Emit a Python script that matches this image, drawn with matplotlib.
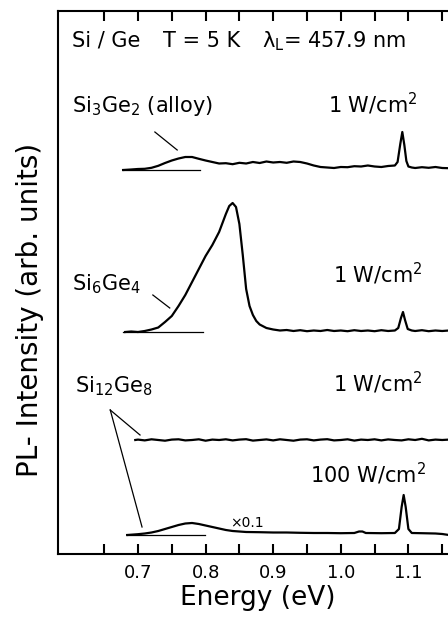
import numpy as np
import matplotlib.pyplot as plt

# PL spectra (energy in eV, intensity in arb. units above each baseline)
e_alloy = [0.678, 0.69, 0.70, 0.71, 0.72, 0.73, 0.74, 0.75, 0.76, 0.77, 0.78, 0.79, 0.80,
           0.81, 0.82, 0.83, 0.84, 0.85, 0.86, 0.87, 0.88, 0.89, 0.90, 0.91, 0.92, 0.93,
           0.94, 0.95, 0.96, 0.97, 0.98, 0.99, 1.00, 1.01, 1.02, 1.03, 1.04, 1.05, 1.06,
           1.07, 1.08, 1.084, 1.088, 1.091, 1.094, 1.097, 1.10, 1.105, 1.11, 1.12, 1.13,
           1.14, 1.15, 1.16]
i_alloy = [0, 0.5, 1, 1.2, 2.2, 4.2, 7, 9.5, 11.5, 13, 13, 11.2, 9.5,
           8, 6.5, 6.8, 5.8, 7.2, 6.5, 8, 7, 8.5, 7.5, 8, 7.2, 8.5,
           8, 6.5, 4.5, 3, 2.5, 2, 3, 2.8, 3.8, 3.5, 4.5, 3.5, 3,
           4, 4.5, 8, 26, 38, 25, 9, 3.5, 2.5, 2, 2.8, 2.2,
           3, 2, 1.8]

e_64 = [0.681, 0.69, 0.70, 0.71, 0.72, 0.73, 0.74, 0.75, 0.76, 0.77, 0.78, 0.79, 0.80,
        0.81, 0.82, 0.83, 0.835, 0.84, 0.845, 0.85, 0.855, 0.86, 0.865, 0.87, 0.875,
        0.88, 0.89, 0.90, 0.91, 0.92, 0.93, 0.94, 0.95, 0.96, 0.97, 0.98, 0.99, 1.00,
        1.01, 1.02, 1.03, 1.04, 1.05, 1.06, 1.07, 1.08, 1.085, 1.089, 1.092, 1.095,
        1.099, 1.105, 1.11, 1.12, 1.13, 1.14, 1.15, 1.16]
i_64 = [0, 0.5, 0, 1, 2.5, 4.5, 10, 16, 26, 37, 50, 63, 76,
        87, 100, 118, 126, 129, 125, 108, 77, 43, 26, 17, 11,
        7.5, 4, 2.5, 1.5, 2, 1, 1.8, 0.8, 1.5, 1, 2, 1, 1.5,
        0.8, 1.8, 1, 1.5, 0.8, 1.8, 1, 1.5, 4, 14, 20, 12,
        3, 1.5, 1, 1.8, 0.8, 1.5, 1, 1.5]

e_128_low = [0.696, 0.70, 0.71, 0.72, 0.73, 0.74, 0.75, 0.76, 0.77, 0.78, 0.79, 0.80,
             0.81, 0.82, 0.83, 0.84, 0.85, 0.86, 0.87, 0.88, 0.89, 0.90, 0.91, 0.92,
             0.93, 0.94, 0.95, 0.96, 0.97, 0.98, 0.99, 1.00, 1.01, 1.02, 1.03, 1.04,
             1.05, 1.06, 1.07, 1.08, 1.09, 1.10, 1.11, 1.12, 1.13, 1.14, 1.15, 1.16]
i_128_low = [0, 0.4, -0.4, 0.7, 0, -0.7, 0.4, 0.7, -0.4, 0, 0.7, -0.7,
             0.4, 0, 0.7, -0.4, 0.4, 0.8, -0.6, 0, 0.6, -0.4, 0.7, 0,
             -0.7, 0.4, 0.7, -0.4, 0.4, 0.8, -0.4, 0, 0.7, -0.6, 0.4, 0,
             0.7, -0.4, 0.6, 0, -0.4, 0.7, 0, 1.2, -0.4, 0.4, 0, 0.4]

e_128_high = [0.684, 0.69, 0.70, 0.71, 0.72, 0.73, 0.74, 0.75, 0.76, 0.77, 0.78, 0.79,
              0.80, 0.81, 0.82, 0.83, 0.84, 0.85, 0.86, 0.88, 0.90, 0.92, 0.94, 0.96,
              0.98, 1.00, 1.02, 1.027, 1.032, 1.037, 1.06, 1.08, 1.086, 1.090, 1.093,
              1.096, 1.100, 1.105, 1.12, 1.14, 1.15, 1.16]
i_128_high = [0, 0.3, 0.8, 1.5, 2.5, 4, 6, 8, 10, 11.5, 12, 11,
              9.5, 8, 6.5, 5, 4, 3.5, 3, 2.8, 2.5, 2.5, 2.2, 2,
              2, 1.8, 2, 3.5, 3.5, 2, 1.8, 2, 6, 28, 40,
              28, 6, 2, 1.8, 1.5, 1, 0]

# zero lines drawn under the broad bands
zero_alloy = [0.678, 0.792]
zero_64 = [0.678, 0.796]
zero_128 = [0.684, 0.799]

xticks = [0.65, 0.70, 0.75, 0.80, 0.85, 0.90, 0.95, 1.00, 1.05, 1.10, 1.15]
xticklabels = ['', '0.7', '', '0.8', '', '0.9', '', '1.0', '', '1.1', '']

# vertical offsets of the stacked spectra
off_alloy = 384
off_64 = 222
off_low = 114
off_high = 19

plt.rcParams['font.family'] = 'DejaVu Sans'

fig = plt.figure(figsize=(4.48, 6.2), dpi=100)
ax = fig.add_axes([58 / 448, 66 / 620, 418 / 448, 543 / 620])

lw = 1.6
ax.plot(e_alloy, np.array(i_alloy) + off_alloy, color='black', lw=lw)
ax.plot(e_64, np.array(i_64) + off_64, color='black', lw=lw)
ax.plot(e_128_low, np.array(i_128_low) + off_low, color='black', lw=lw)
ax.plot(e_128_high, np.array(i_128_high) + off_high, color='black', lw=lw)

ax.plot(zero_alloy, [off_alloy, off_alloy], color='black', lw=0.9)
ax.plot(zero_64, [off_64, off_64], color='black', lw=0.9)
ax.plot(zero_128, [off_high, off_high], color='black', lw=0.9)

# pointer lines from the sample labels
ax.plot([0.725, 0.758], [422, 404], color='black', lw=0.9)
ax.plot([0.722, 0.747], [259, 246], color='black', lw=0.9)
ax.plot([0.659, 0.703], [144, 119], color='black', lw=0.9)
ax.plot([0.659, 0.706], [144, 27], color='black', lw=0.9)

fs = 15
ax.text(0.602, 507, 'Si / Ge', fontsize=fs)
ax.text(0.737, 507, 'T = 5 K', fontsize=fs)
ax.text(0.883, 507, r'λ$_\mathrm{L}$= 457.9 nm', fontsize=fs)

ax.text(0.602, 442, r'Si$_3$Ge$_2$ (alloy)', fontsize=fs)
ax.text(0.981, 441, r'1 W/cm$^2$', fontsize=fs)
ax.text(0.602, 264, r'Si$_6$Ge$_4$', fontsize=fs)
ax.text(0.988, 271, r'1 W/cm$^2$', fontsize=fs)
ax.text(0.607, 162, r'Si$_{12}$Ge$_8$', fontsize=fs)
ax.text(0.988, 162, r'1 W/cm$^2$', fontsize=fs)
ax.text(0.954, 71, r'100 W/cm$^2$', fontsize=fs)
ax.text(0.836, 27, '×0.1', fontsize=10)

ax.set_xlim(0.5817, 1.2)
ax.set_ylim(0, 543)
ax.set_xticks(xticks, xticklabels)
ax.set_yticks([])
ax.tick_params(axis='x', direction='in', top=True, length=7, width=1.5,
               labelsize=13, pad=7)
for s in ax.spines.values():
    s.set_linewidth(1.5)

fig.text(258 / 448, 1 - 598 / 620, 'Energy (eV)', fontsize=19,
         ha='center', va='center')
fig.text(30 / 448, 1 - 310 / 620, 'PL- Intensity (arb. units)', fontsize=20,
         rotation=90, ha='center', va='center')

plt.savefig('out.png', dpi=100)
